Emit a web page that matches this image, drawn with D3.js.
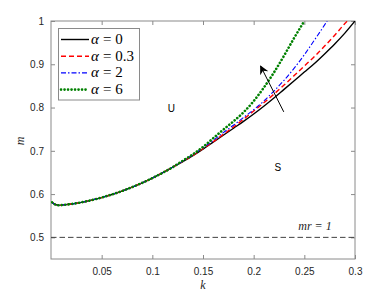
<!DOCTYPE html>
<html>
<head>
<meta charset="utf-8">
<script src="https://cdn.jsdelivr.net/npm/d3@7"></script>
<style>
  body { margin: 0; background: #fff; }
  svg { display: block; }
  .tick text { font-family: "Liberation Sans", Arial, sans-serif; font-size: 10px; fill: #262626; }
</style>
</head>
<body>
<div id="chart"></div>
<script>
// shared low part of every curve (the curves coincide for small k)
var kLow = [0.001, 0.004, 0.008, 0.012, 0.02, 0.03, 0.04, 0.05, 0.06, 0.07, 0.08, 0.09, 0.1, 0.11, 0.12]
var mLow = [0.581, 0.576, 0.574, 0.575, 0.577, 0.581, 0.586, 0.592, 0.599, 0.607, 0.616, 0.626, 0.637, 0.649, 0.662]

// upper part, one array per alpha
var kA0 = [0.13, 0.14, 0.15, 0.16, 0.17, 0.18, 0.19, 0.2, 0.21, 0.22, 0.23, 0.24, 0.25, 0.26, 0.27, 0.28, 0.29, 0.3]
var mA0 = [0.675, 0.689, 0.704, 0.720, 0.736, 0.752, 0.768, 0.785, 0.803, 0.822, 0.842, 0.862, 0.882, 0.902, 0.924, 0.947, 0.972, 1.0]

var kA03 = [0.13, 0.14, 0.15, 0.16, 0.17, 0.18, 0.19, 0.2, 0.21, 0.22, 0.23, 0.24, 0.25, 0.26, 0.27, 0.28, 0.29, 0.2925]
var mA03 = [0.675, 0.689, 0.705, 0.721, 0.738, 0.755, 0.773, 0.792, 0.811, 0.831, 0.852, 0.874, 0.896, 0.918, 0.942, 0.967, 0.994, 1.0]

var kA2 = [0.13, 0.14, 0.15, 0.16, 0.17, 0.18, 0.19, 0.2, 0.21, 0.22, 0.23, 0.24, 0.25, 0.26, 0.27, 0.2725]
var mA2 = [0.676, 0.691, 0.707, 0.724, 0.742, 0.759, 0.777, 0.795, 0.815, 0.838, 0.863, 0.891, 0.922, 0.956, 0.991, 1.0]

var kA6 = [0.13, 0.14, 0.15, 0.16, 0.17, 0.18, 0.19, 0.2, 0.21, 0.22, 0.23, 0.24, 0.25]
var mA6 = [0.677, 0.692, 0.709, 0.729, 0.749, 0.768, 0.789, 0.815, 0.846, 0.881, 0.920, 0.961, 1.0]

var alphas = ["0", "0.3", "2", "6"]
var xTicks = [0.05, 0.1, 0.15, 0.2, 0.25, 0.3]
var yTicks = [0.5, 0.6, 0.7, 0.8, 0.9, 1]
var mrLevel = 0.5
var arrowK = [0.2297, 0.2068]
var arrowM = [0.790, 0.896]

var W = 392, H = 294
var pad = {l: 51, r: 355, t: 21, b: 259}

var x = d3.scaleLinear().domain([0, 0.3]).range([pad.l, pad.r])
var y = d3.scaleLinear().domain([0.45, 1]).range([pad.b, pad.t])

var svg = d3.select("#chart").append("svg")
    .attr("width", W)
    .attr("height", H)

svg.append("defs").append("clipPath").attr("id", "clip")
  .append("rect")
    .attr("x", pad.l).attr("y", pad.t)
    .attr("width", pad.r - pad.l).attr("height", pad.b - pad.t)

// axes with inward ticks, box on
var axisColor = "#8a8a8a"
var gx = svg.append("g")
    .attr("transform", "translate(0," + pad.b + ")")
    .call(d3.axisBottom(x).tickValues(xTicks).tickSize(-4).tickPadding(9).tickFormat(d3.format("")))
var gxTop = svg.append("g")
    .attr("transform", "translate(0," + pad.t + ")")
    .call(d3.axisTop(x).tickValues(xTicks).tickSize(-4).tickFormat(""))
var gy = svg.append("g")
    .attr("transform", "translate(" + pad.l + ",0)")
    .call(d3.axisLeft(y).tickValues(yTicks).tickSize(-4).tickPadding(7).tickFormat(d3.format("")))
var gyRight = svg.append("g")
    .attr("transform", "translate(" + pad.r + ",0)")
    .call(d3.axisRight(y).tickValues(yTicks).tickSize(-4).tickFormat(""))

;[gx, gxTop, gy, gyRight].forEach(function (g) {
  g.select(".domain").remove()
  g.selectAll(".tick line").attr("stroke", axisColor)
})
svg.append("rect")
    .attr("x", pad.l).attr("y", pad.t)
    .attr("width", pad.r - pad.l).attr("height", pad.b - pad.t)
    .attr("fill", "none")
    .attr("stroke", axisColor)
    .attr("stroke-width", 1)

// mr = 1 line
svg.append("line")
    .attr("x1", x(0)).attr("x2", x(0.3))
    .attr("y1", y(mrLevel)).attr("y2", y(mrLevel))
    .attr("stroke", "#404040")
    .attr("stroke-width", 1)
    .attr("stroke-dasharray", "5.5,3")

var series = [
  {k: kA0, m: mA0, color: "#000000", width: 1.4, dash: null, cap: "butt"},
  {k: kA03, m: mA03, color: "#ff0000", width: 1.4, dash: "5,3", cap: "butt"},
  {k: kA2, m: mA2, color: "#0000ff", width: 1.1, dash: "5,2,1.5,2", cap: "butt"},
  {k: kA6, m: mA6, color: "#008000", width: 2.6, dash: "0.1,3.4", cap: "round"}
]

var line = d3.line()
    .x(function (d) { return x(d[0]) })
    .y(function (d) { return y(d[1]) })
    .curve(d3.curveMonotoneX)

var plot = svg.append("g").attr("clip-path", "url(#clip)")
series.forEach(function (s) {
  var pts = kLow.map(function (k, i) { return [k, mLow[i]] })
      .concat(s.k.map(function (k, i) { return [k, s.m[i]] }))
  plot.append("path")
      .datum(pts)
      .attr("d", line)
      .attr("fill", "none")
      .attr("stroke", s.color)
      .attr("stroke-width", s.width)
      .attr("stroke-linecap", s.cap)
      .attr("stroke-dasharray", s.dash)
})

// arrow
svg.append("defs").append("marker")
    .attr("id", "head")
    .attr("viewBox", "0 0 10 10")
    .attr("refX", 9).attr("refY", 5)
    .attr("markerWidth", 9).attr("markerHeight", 9)
    .attr("markerUnits", "userSpaceOnUse")
    .attr("orient", "auto")
  .append("path")
    .attr("d", "M0,0 L10,5 L0,10 L3,5 Z")
    .attr("fill", "#000")
svg.append("line")
    .attr("x1", x(arrowK[0])).attr("y1", y(arrowM[0]))
    .attr("x2", x(arrowK[1])).attr("y2", y(arrowM[1]))
    .attr("stroke", "#000")
    .attr("stroke-width", 1)
    .attr("marker-end", "url(#head)")

// region labels
svg.append("text").attr("x", x(0.1188)).attr("y", y(0.79))
    .attr("text-anchor", "middle")
    .style("font-family", "Liberation Sans, Arial, sans-serif").style("font-size", "10px")
    .text("U")
svg.append("text").attr("x", x(0.2238)).attr("y", y(0.654))
    .attr("text-anchor", "middle")
    .style("font-family", "Liberation Sans, Arial, sans-serif").style("font-size", "10px")
    .text("S")
svg.append("text").attr("x", x(0.2605)).attr("y", y(0.518))
    .attr("text-anchor", "middle")
    .style("font-family", "Liberation Serif, serif").style("font-size", "12px")
    .style("font-style", "italic").attr("fill", "#262626")
    .text("mr = 1")

// axis labels
svg.append("text")
    .attr("x", x(0.15)).attr("y", 289)
    .attr("text-anchor", "middle")
    .style("font-family", "Liberation Serif, serif").style("font-size", "12px")
    .style("font-style", "italic").attr("fill", "#262626")
    .text("k")
svg.append("text")
    .attr("transform", "translate(24,141) rotate(-90)")
    .attr("text-anchor", "middle")
    .style("font-family", "Liberation Serif, serif").style("font-size", "12px")
    .style("font-style", "italic").attr("fill", "#262626")
    .text("m")

// legend
var legend = svg.append("g")
legend.append("rect")
    .attr("x", 58.5).attr("y", 28.5)
    .attr("width", 81).attr("height", 71.5)
    .attr("fill", "#fff")
    .attr("stroke", "#8a8a8a")
    .attr("stroke-width", 1)
series.forEach(function (s, i) {
  var cy = 39.5 + i * 16.7
  legend.append("line")
      .attr("x1", 61).attr("x2", 89)
      .attr("y1", cy).attr("y2", cy)
      .attr("stroke", s.color)
      .attr("stroke-width", s.width)
      .attr("stroke-linecap", s.cap)
      .attr("stroke-dasharray", s.dash)
  var t = legend.append("text")
      .attr("x", 91).attr("y", cy + 4.5)
      .style("font-family", "Liberation Serif, serif").style("font-size", "15px")
  t.append("tspan").style("font-style", "italic").text("α")
  t.append("tspan").attr("dx", 4).text("=")
  t.append("tspan").attr("dx", 4).text(alphas[i])
})
</script>
</body>
</html>
